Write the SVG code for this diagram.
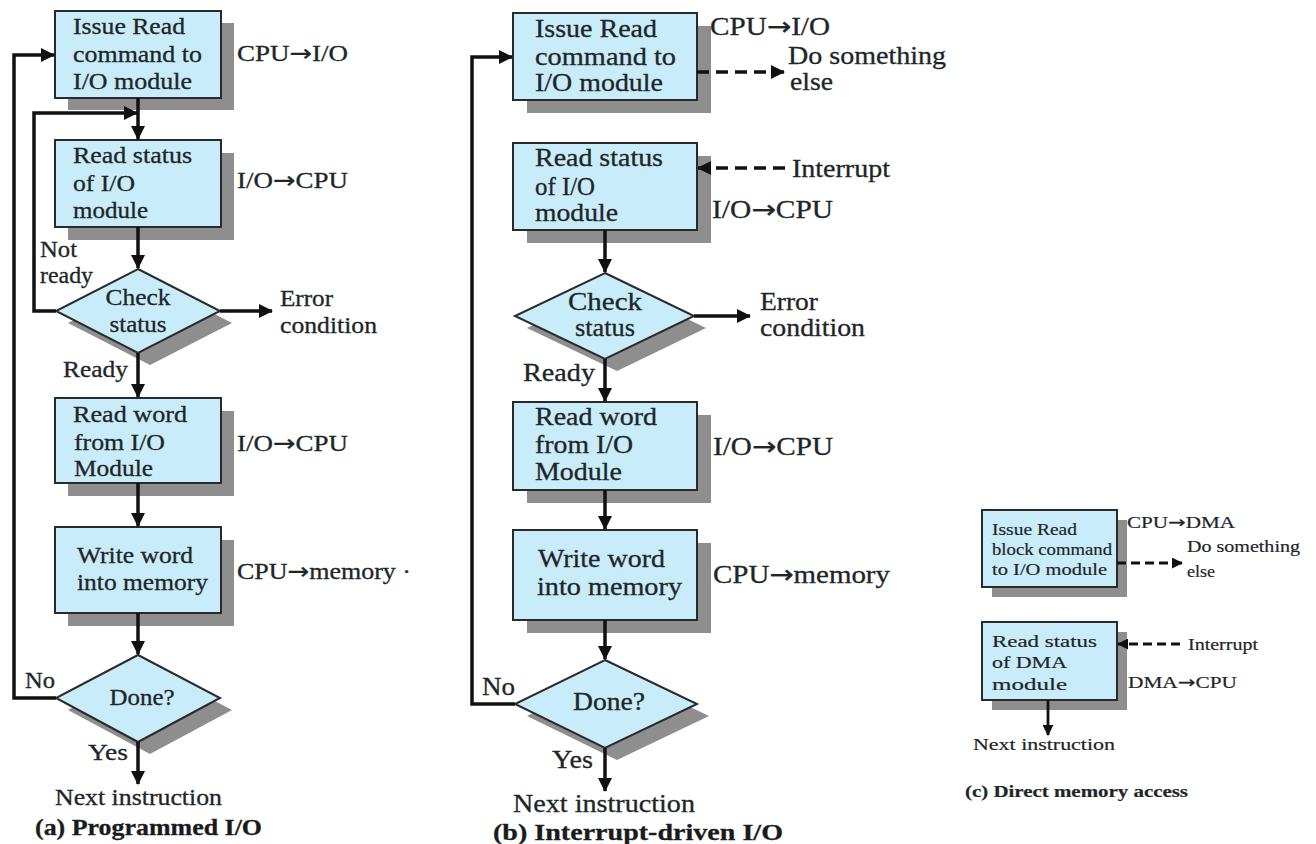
<svg xmlns="http://www.w3.org/2000/svg" width="1316" height="844" viewBox="0 0 1316 844">
  <style>
    .box { fill: #c9ecfa; stroke: #2a2a2a; stroke-width: 2; }
    .shd { fill: #8e8e8e; }
    text { font-family: "Liberation Serif", "Times New Roman", serif; fill: #1e2628; stroke: #1e2628; stroke-width: 0.3; }
    .t { font-size: 23px; }
    .tl { font-size: 25px; }
    .tb { font-size: 23px; font-weight: bold; fill: #1a1a1a; }
    .ts { font-size: 17px; stroke-width: 0.2; }
    .ar { font-family: "DejaVu Sans", sans-serif; }
    .c { text-anchor: middle; }
    .ln { fill: none; stroke: #111; stroke-width: 3.5; }
    .dash { fill: none; stroke: #111; stroke-width: 3.5; stroke-dasharray: 12 7; }
    .thin { fill: none; stroke: #111; stroke-width: 2.8; }
    .thindash { fill: none; stroke: #111; stroke-width: 2.8; stroke-dasharray: 9 5; }
  </style>
  <defs>
    <marker id="ah" markerUnits="userSpaceOnUse" viewBox="0 0 14 14" refX="13" refY="7" markerWidth="14" markerHeight="14" orient="auto">
      <path d="M0,0 L14,7 L0,14 z" fill="#111"/>
    </marker>
    <marker id="ahs" markerUnits="userSpaceOnUse" viewBox="0 0 12 12" refX="11" refY="6" markerWidth="11" markerHeight="11" orient="auto">
      <path d="M0,0 L12,6 L0,12 z" fill="#111"/>
    </marker>
  </defs>
  <rect width="1316" height="844" fill="#ffffff"/>

  <!-- (a) Programmed I/O -->
  <g id="a-issue">
    <rect class="shd" x="68" y="23" width="166" height="87"/>
    <rect class="box" x="55" y="11" width="166" height="87"/>
    <text class="t" x="73" y="34" textLength="112" lengthAdjust="spacingAndGlyphs">Issue Read</text>
    <text class="t" x="73" y="62" textLength="129" lengthAdjust="spacingAndGlyphs">command to</text>
    <text class="t" x="73" y="89" textLength="119" lengthAdjust="spacingAndGlyphs">I/O module</text>
    <text class="t" x="237" y="61" textLength="111" lengthAdjust="spacingAndGlyphs">CPU<tspan class="ar">→</tspan>I/O</text>
  </g>
  <g id="a-status">
    <rect class="shd" x="68" y="153" width="166" height="87"/>
    <rect class="box" x="55" y="140" width="166" height="87"/>
    <text class="t" x="73" y="163" textLength="119" lengthAdjust="spacingAndGlyphs">Read status</text>
    <text class="t" x="73" y="191" textLength="62" lengthAdjust="spacingAndGlyphs">of I/O</text>
    <text class="t" x="73" y="218" textLength="75" lengthAdjust="spacingAndGlyphs">module</text>
    <text class="t" x="237" y="188" textLength="111" lengthAdjust="spacingAndGlyphs">I/O<tspan class="ar">→</tspan>CPU</text>
  </g>
  <g id="a-check">
    <polygon class="shd" points="150,281 232,323 150,365 68,323"/>
    <polygon class="box" points="138,269 220,311 138,353 56,311"/>
    <text class="t c" x="138" y="305" textLength="65" lengthAdjust="spacingAndGlyphs">Check</text>
    <text class="t c" x="138" y="332" textLength="57" lengthAdjust="spacingAndGlyphs">status</text>
  </g>
  <g id="a-read">
    <rect class="shd" x="68" y="411" width="166" height="85"/>
    <rect class="box" x="55" y="398" width="166" height="85"/>
    <text class="t" x="73" y="422" textLength="114" lengthAdjust="spacingAndGlyphs">Read word</text>
    <text class="t" x="74" y="450" textLength="91" lengthAdjust="spacingAndGlyphs">from I/O</text>
    <text class="t" x="74" y="476" textLength="79" lengthAdjust="spacingAndGlyphs">Module</text>
    <text class="t" x="237" y="451" textLength="111" lengthAdjust="spacingAndGlyphs">I/O<tspan class="ar">→</tspan>CPU</text>
  </g>
  <g id="a-write">
    <rect class="shd" x="68" y="540" width="166" height="86"/>
    <rect class="box" x="55" y="527" width="166" height="86"/>
    <text class="t" x="77" y="563" textLength="116" lengthAdjust="spacingAndGlyphs">Write word</text>
    <text class="t" x="77" y="590" textLength="131" lengthAdjust="spacingAndGlyphs">into memory</text>
    <text class="t" x="237" y="579" textLength="174" lengthAdjust="spacingAndGlyphs">CPU<tspan class="ar">→</tspan>memory ·</text>
  </g>
  <g id="a-done">
    <polygon class="shd" points="150,667 232,710 150,754 68,710"/>
    <polygon class="box" points="138,655 220,698 138,742 56,698"/>
    <text class="t c" x="142" y="705" textLength="65" lengthAdjust="spacingAndGlyphs">Done?</text>
  </g>
  <g id="a-labels">
    <text class="t" x="40" y="257" textLength="37" lengthAdjust="spacingAndGlyphs">Not</text>
    <text class="t" x="40" y="283" textLength="53" lengthAdjust="spacingAndGlyphs">ready</text>
    <text class="t" x="280" y="306" textLength="53" lengthAdjust="spacingAndGlyphs">Error</text>
    <text class="t" x="280" y="333" textLength="97" lengthAdjust="spacingAndGlyphs">condition</text>
    <text class="t" x="63" y="377" textLength="65" lengthAdjust="spacingAndGlyphs">Ready</text>
    <text class="t" x="25" y="688" textLength="30" lengthAdjust="spacingAndGlyphs">No</text>
    <text class="t" x="88" y="760" textLength="40" lengthAdjust="spacingAndGlyphs">Yes</text>
    <text class="t" x="55" y="805" textLength="167" lengthAdjust="spacingAndGlyphs">Next instruction</text>
    <text class="tb" x="35" y="835" textLength="227" lengthAdjust="spacingAndGlyphs">(a) Programmed I/O</text>
  </g>

  <!-- (b) Interrupt-driven I/O -->
  <g id="b-issue">
    <rect class="shd" x="527" y="26" width="184" height="87"/>
    <rect class="box" x="513" y="13" width="184" height="87"/>
    <text class="tl" x="535" y="37" textLength="122" lengthAdjust="spacingAndGlyphs">Issue Read</text>
    <text class="tl" x="535" y="65" textLength="141" lengthAdjust="spacingAndGlyphs">command to</text>
    <text class="tl" x="535" y="91" textLength="128" lengthAdjust="spacingAndGlyphs">I/O module</text>
    <text class="tl" x="710" y="35" textLength="120" lengthAdjust="spacingAndGlyphs">CPU<tspan class="ar">→</tspan>I/O</text>
  </g>
  <g id="b-status">
    <rect class="shd" x="527" y="156" width="184" height="87"/>
    <rect class="box" x="513" y="143" width="184" height="87"/>
    <text class="tl" x="535" y="166" textLength="128" lengthAdjust="spacingAndGlyphs">Read status</text>
    <text class="tl" x="535" y="195" textLength="60" lengthAdjust="spacingAndGlyphs">of I/O</text>
    <text class="tl" x="535" y="221" textLength="83" lengthAdjust="spacingAndGlyphs">module</text>
    <text class="tl" x="712" y="218" textLength="121" lengthAdjust="spacingAndGlyphs">I/O<tspan class="ar">→</tspan>CPU</text>
  </g>
  <g id="b-check">
    <polygon class="shd" points="617,285 706,328 617,371 527,328"/>
    <polygon class="box" points="605,273 694,316 605,359 515,316"/>
    <text class="tl" x="568" y="310" textLength="74" lengthAdjust="spacingAndGlyphs">Check</text>
    <text class="tl" x="575" y="336" textLength="60" lengthAdjust="spacingAndGlyphs">status</text>
  </g>
  <g id="b-read">
    <rect class="shd" x="527" y="415" width="184" height="88"/>
    <rect class="box" x="513" y="402" width="184" height="88"/>
    <text class="tl" x="535" y="425" textLength="122" lengthAdjust="spacingAndGlyphs">Read word</text>
    <text class="tl" x="535" y="453" textLength="98" lengthAdjust="spacingAndGlyphs">from I/O</text>
    <text class="tl" x="535" y="480" textLength="87" lengthAdjust="spacingAndGlyphs">Module</text>
    <text class="tl" x="713" y="455" textLength="120" lengthAdjust="spacingAndGlyphs">I/O<tspan class="ar">→</tspan>CPU</text>
  </g>
  <g id="b-write">
    <rect class="shd" x="527" y="543" width="184" height="90"/>
    <rect class="box" x="513" y="530" width="184" height="90"/>
    <text class="tl" x="538" y="567" textLength="127" lengthAdjust="spacingAndGlyphs">Write word</text>
    <text class="tl" x="537" y="595" textLength="145" lengthAdjust="spacingAndGlyphs">into memory</text>
    <text class="tl" x="713" y="583" textLength="177" lengthAdjust="spacingAndGlyphs">CPU<tspan class="ar">→</tspan>memory</text>
  </g>
  <g id="b-done">
    <polygon class="shd" points="617,672 709,716 617,760 527,716"/>
    <polygon class="box" points="605,660 697,704 605,748 515,704"/>
    <text class="tl" x="573" y="710" textLength="72" lengthAdjust="spacingAndGlyphs">Done?</text>
  </g>
  <g id="b-labels">
    <text class="tl" x="788" y="64" textLength="158" lengthAdjust="spacingAndGlyphs">Do something</text>
    <text class="tl" x="790" y="90" textLength="43" lengthAdjust="spacingAndGlyphs">else</text>
    <text class="tl" x="792" y="177" textLength="98" lengthAdjust="spacingAndGlyphs">Interrupt</text>
    <text class="tl" x="760" y="310" textLength="58" lengthAdjust="spacingAndGlyphs">Error</text>
    <text class="tl" x="760" y="336" textLength="105" lengthAdjust="spacingAndGlyphs">condition</text>
    <text class="tl" x="523" y="381" textLength="72" lengthAdjust="spacingAndGlyphs">Ready</text>
    <text class="tl" x="482" y="695" textLength="33" lengthAdjust="spacingAndGlyphs">No</text>
    <text class="tl" x="552" y="768" textLength="41" lengthAdjust="spacingAndGlyphs">Yes</text>
    <text class="tl" x="513" y="812" textLength="182" lengthAdjust="spacingAndGlyphs">Next instruction</text>
    <text class="tb" x="493" y="840" font-size="25" textLength="290" lengthAdjust="spacingAndGlyphs">(b) Interrupt-driven I/O</text>
  </g>

  <!-- (c) Direct memory access -->
  <g id="c-issue">
    <rect class="shd" x="992" y="520" width="135" height="77"/>
    <rect class="box" x="982" y="510" width="135" height="77" stroke-width="1.5"/>
    <text class="ts" x="992" y="535" font-size="15" textLength="85" lengthAdjust="spacingAndGlyphs">Issue Read</text>
    <text class="ts" x="992" y="555" font-size="15" textLength="120" lengthAdjust="spacingAndGlyphs">block command</text>
    <text class="ts" x="992" y="575" font-size="15" textLength="115" lengthAdjust="spacingAndGlyphs">to I/O module</text>
    <text class="ts" x="1127" y="528" textLength="108" lengthAdjust="spacingAndGlyphs">CPU<tspan class="ar">→</tspan>DMA</text>
  </g>
  <g id="c-status">
    <rect class="shd" x="992" y="632" width="135" height="78"/>
    <rect class="box" x="982" y="622" width="135" height="78" stroke-width="1.5"/>
    <text class="ts" x="992" y="647" font-size="19" textLength="105" lengthAdjust="spacingAndGlyphs">Read status</text>
    <text class="ts" x="992" y="668" font-size="19" textLength="75" lengthAdjust="spacingAndGlyphs">of DMA</text>
    <text class="ts" x="992" y="690" font-size="19" textLength="75" lengthAdjust="spacingAndGlyphs">module</text>
    <text class="ts" x="1128" y="688" textLength="109" lengthAdjust="spacingAndGlyphs">DMA<tspan class="ar">→</tspan>CPU</text>
  </g>
  <g id="c-labels">
    <text class="ts" x="1187" y="552" font-size="18" textLength="113" lengthAdjust="spacingAndGlyphs">Do something</text>
    <text class="ts" x="1187" y="577" font-size="18" textLength="28" lengthAdjust="spacingAndGlyphs">else</text>
    <text class="ts" x="1188" y="650" textLength="70" lengthAdjust="spacingAndGlyphs">Interrupt</text>
    <text class="ts" x="973" y="750" textLength="142" lengthAdjust="spacingAndGlyphs">Next instruction</text>
    <text class="ts" x="965" y="797" font-size="15" font-weight="bold" textLength="223" lengthAdjust="spacingAndGlyphs">(c) Direct memory access</text>
  </g>

  <!-- connectors -->
  <g id="connectors">
    <!-- (a) -->
    <line class="ln" x1="138" y1="98" x2="138" y2="139" marker-end="url(#ah)"/>
    <polyline class="ln" points="56,311 34,311 34,113 137,113" marker-end="url(#ah)"/>
    <line class="ln" x1="138" y1="227" x2="138" y2="268" marker-end="url(#ah)"/>
    <line class="ln" x1="220" y1="311" x2="272" y2="311" marker-end="url(#ah)"/>
    <line class="ln" x1="138" y1="353" x2="138" y2="397" marker-end="url(#ah)"/>
    <line class="ln" x1="138" y1="483" x2="138" y2="526" marker-end="url(#ah)"/>
    <line class="ln" x1="138" y1="613" x2="138" y2="654" marker-end="url(#ah)"/>
    <polyline class="ln" points="56,698 14,698 14,55 54,55" marker-end="url(#ah)"/>
    <line class="ln" x1="138" y1="742" x2="138" y2="784" marker-end="url(#ah)"/>
    <!-- (b) -->
    <line class="dash" x1="697" y1="72" x2="784" y2="72" marker-end="url(#ah)"/>
    <line class="dash" x1="785" y1="168" x2="698" y2="168" marker-end="url(#ah)"/>
    <line class="ln" x1="605" y1="230" x2="605" y2="272" marker-end="url(#ah)"/>
    <line class="ln" x1="694" y1="316" x2="750" y2="316" marker-end="url(#ah)"/>
    <line class="ln" x1="605" y1="359" x2="605" y2="401" marker-end="url(#ah)"/>
    <line class="ln" x1="605" y1="490" x2="605" y2="529" marker-end="url(#ah)"/>
    <line class="ln" x1="605" y1="620" x2="605" y2="659" marker-end="url(#ah)"/>
    <polyline class="ln" points="515,704 472,704 472,57 512,57" marker-end="url(#ah)"/>
    <line class="ln" x1="605" y1="748" x2="605" y2="791" marker-end="url(#ah)"/>
    <!-- (c) -->
    <line class="thindash" x1="1117" y1="563" x2="1182" y2="563" marker-end="url(#ahs)"/>
    <line class="thindash" x1="1180" y1="644" x2="1118" y2="644" marker-end="url(#ahs)"/>
    <line class="thin" x1="1048" y1="700" x2="1048" y2="735" marker-end="url(#ahs)"/>
  </g>
</svg>
